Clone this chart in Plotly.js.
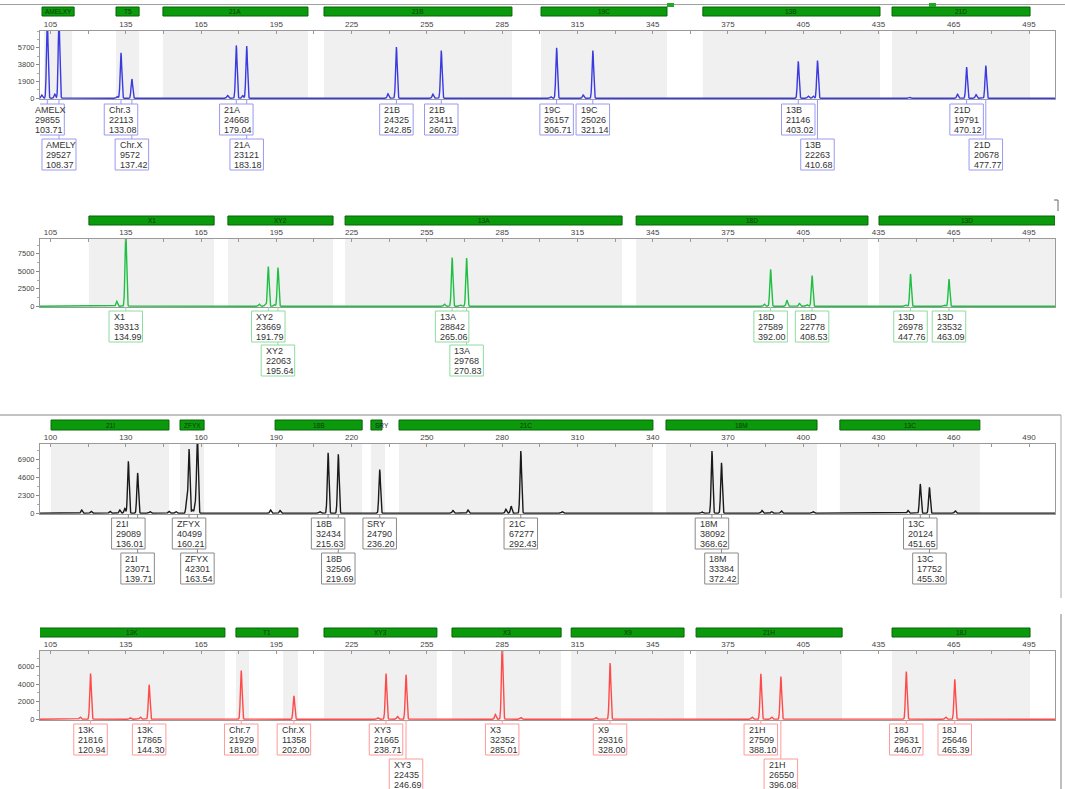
<!DOCTYPE html>
<html><head><meta charset="utf-8">
<script src="https://cdn.plot.ly/plotly-3.0.1.min.js"></script>
<style>html,body{margin:0;padding:0;background:#fff}#chart{width:1065px;height:789px}</style>
</head><body><div id="chart"></div>
<script>
// ================= DATA =================
// Panel 1 (blue dye)
const p1Names   = ["AMELX","AMELY","Chr.3","Chr.X","21A","21A","21B","21B","19C","19C","13B","13B","21D","21D"];
const p1Areas   = ["29855","29527","22113","9572","24668","23121","24325","23411","26157","25026","21146","22263","19791","20678"];
const p1Sizes   = [103.71,108.37,133.08,137.42,179.04,183.18,242.85,260.73,306.71,321.14,403.02,410.68,470.12,477.77];
const p1Heights = [9000,9000,5130,2170,5970,5890,5780,5400,5700,5400,4180,4260,3530,3690];
const p1Rows    = [1,2,1,2,1,2,1,1,1,1,1,2,1,2];
const p1MinorPos = [101.5,106.7,131.6,175.6,181.6,239.5,257.4,304.5,317.3,407.0,409.0,447.5,466.5,473.9];
const p1MinorH   = [350,450,200,300,300,500,450,150,350,250,250,100,450,400];
const p1Loci     = ["AMELXY","T5","21A","21B","19C","13B","21D"];
const p1LocStart = [101.6,131.1,149.8,214.0,300.5,365.0,440.4];
const p1LocEnd   = [114.4,140.3,207.6,288.9,350.7,435.6,495.4];
const p1BinStart = [102.4,131.1,149.8,214.0,300.5,365.0,440.4];
const p1BinEnd   = [113.6,140.3,207.6,288.9,350.7,435.6,495.4];
const p1TickText = ["105","135","165","195","225","255","285","315","345","375","405","435","465","495"];
const p1YTicks   = [0,1900,3800,5700];

// Panel 2 (green dye)
const p2Names   = ["X1","XY2","XY2","13A","13A","18D","18D","13D","13D"];
const p2Areas   = ["39313","23669","22063","28842","29768","27589","22778","26978","23532"];
const p2Sizes   = [134.99,191.79,195.64,265.06,270.83,392.00,408.53,447.76,463.09];
const p2Heights = [11000,5670,5530,6970,6880,5290,4380,4620,3890];
const p2Rows    = [1,1,2,1,2,1,1,1,1];
const p2MinorPos = [131.4,188.2,190.6,194.2,262.0,268.5,389.5,398.5,403.5,406.5,446.0,461.5];
const p2MinorH   = [700,300,250,250,300,150,300,850,400,200,150,150];
const p2Loci     = ["X1","XY2","13A","18D","13D"];
const p2LocStart = [120.3,175.7,222.4,338.4,435.2];
const p2LocEnd   = [170.2,217.6,332.8,430.8,505.3];
const p2BinStart = [120.3,175.7,222.4,338.4,435.2];
const p2BinEnd   = [170.2,217.6,332.8,430.8,505.3];
const p2TickText = ["105","135","165","195","225","255","285","315","345","375","405","435","465","495"];
const p2YTicks   = [0,2500,5000,7500];

// Panel 3 (black dye)
const p3Names   = ["21I","21I","ZFYX","ZFYX","18B","18B","SRY","21C","18M","18M","13C","13C"];
const p3Areas   = ["29089","23071","40499","42301","32434","32506","24790","67277","38092","33384","20124","17752"];
const p3Sizes   = [136.01,139.71,160.21,163.54,215.63,219.69,236.20,292.43,368.62,372.42,451.65,455.30];
const p3Heights = [6700,5200,8250,10000,7800,7600,5640,8030,8030,6500,3780,3340];
const p3Rows    = [1,2,1,2,1,2,1,1,1,2,1,2];
const p3MinorPos = [117.4,121.2,128.7,132.6,134.6,144.7,152.2,155.0,159.3,161.6,162.7,192.7,196.5,212.4,265.4,271.4,286.5,288.6,309.0,364.7,388.6,392.4,396.3,409.0,446.8,465.6];
const p3MinorH   = [400,250,250,400,600,200,250,200,1700,400,1200,400,350,200,350,400,500,900,200,150,350,200,300,200,350,300];
const p3Loci     = ["21I","ZFYX","18B","SRY","21C","18M","13C"];
const p3LocStart = [105.2,156.6,194.5,232.7,243.9,350.3,419.6];
const p3LocEnd   = [152.2,166.2,229.2,237.1,345.1,410.5,475.4];
const p3BinStart = [105.2,156.6,194.5,232.7,243.9,350.3,419.6];
const p3BinEnd   = [152.2,166.2,229.2,238.3,345.1,410.5,475.4];
const p3TickText = ["100","130","160","190","220","250","280","310","340","370","400","430","460","490"];
const p3YTicks   = [0,2300,4600,6900];

// Panel 4 (red dye)
const p4Names   = ["13K","13K","Chr.7","Chr.X","XY3","XY3","X3","X9","21H","21H","18J","18J"];
const p4Areas   = ["21816","17865","21929","11358","21665","22435","32352","29316","27509","26550","29631","25646"];
const p4Sizes   = [120.94,144.30,181.00,202.00,238.71,246.69,285.01,328.00,388.10,396.08,446.07,465.39];
const p4Heights = [5220,3950,5570,2670,5220,5100,9000,6440,5190,4880,5460,4560];
const p4Rows    = [1,1,1,1,1,2,1,1,1,2,1,1];
const p4MinorPos = [116.8,136.8,140.8,235.5,243.3,282.3,292.4,322.4,384.6,392.4,461.8];
const p4MinorH   = [250,150,250,150,300,550,200,200,250,250,250];
const p4Loci     = ["13K","T1","XY3","X3","X9","21H","18J"];
const p4LocStart = [100.4,178.9,214.0,265.0,312.5,362.3,440.4];
const p4LocEnd   = [174.5,203.6,259.0,308.5,357.5,420.5,495.4];
const p4BinStart = [100.4,178.9,197.7,214.0,265.0,312.5,362.3,440.4];
const p4BinEnd   = [174.5,184.1,203.6,259.0,308.5,357.5,420.5,495.4];
const p4TickText = ["105","135","165","195","225","255","285","315","345","375","405","435","465","495"];
const p4YTicks   = [0,2000,4000,6000];

// ================= BUILD =================
const W = 1065, H = 789;
const XR = [100.8, 505.35];
const XDOM = [40 / W, 1055 / W];
const FONT = "Liberation Sans, Arial, sans-serif";
const yp = py => 1 - py / H;

const panels = [
  {names:p1Names, areas:p1Areas, sizes:p1Sizes, heights:p1Heights, rows:p1Rows, mpos:p1MinorPos, mh:p1MinorH,
   loci:p1Loci, ls:p1LocStart, le:p1LocEnd, bs:p1BinStart, be:p1BinEnd, ticktext:p1TickText, yticks:p1YTicks,
   boxTop:31, boxBot:99, barTop:7, barBot:16, row1:104, row2:139, ymax:7600,
   color:"#3a3ae0", border:"#9a9af0"},
  {names:p2Names, areas:p2Areas, sizes:p2Sizes, heights:p2Heights, rows:p2Rows, mpos:p2MinorPos, mh:p2MinorH,
   loci:p2Loci, ls:p2LocStart, le:p2LocEnd, bs:p2BinStart, be:p2BinEnd, ticktext:p2TickText, yticks:p2YTicks,
   boxTop:239, boxBot:307, barTop:216, barBot:225, row1:311, row2:345, ymax:9620,
   color:"#1fbf44", border:"#8fdc9f"},
  {names:p3Names, areas:p3Areas, sizes:p3Sizes, heights:p3Heights, rows:p3Rows, mpos:p3MinorPos, mh:p3MinorH,
   loci:p3Loci, ls:p3LocStart, le:p3LocEnd, bs:p3BinStart, be:p3BinEnd, ticktext:p3TickText, yticks:p3YTicks,
   boxTop:444, boxBot:514, barTop:420, barBot:430, row1:518, row2:553, ymax:8940,
   color:"#1a1a1a", border:"#8a8a8a"},
  {names:p4Names, areas:p4Areas, sizes:p4Sizes, heights:p4Heights, rows:p4Rows, mpos:p4MinorPos, mh:p4MinorH,
   loci:p4Loci, ls:p4LocStart, le:p4LocEnd, bs:p4BinStart, be:p4BinEnd, ticktext:p4TickText, yticks:p4YTicks,
   boxTop:651, boxBot:720, barTop:628, barBot:637, row1:724, row2:759, ymax:7810,
   color:"#ff4a4a", border:"#ff9a9a"}
];

function textWidth(s) {
  let w = 0;
  for (const c of s) {
    if (c >= '0' && c <= '9') w += 5.0;
    else if (c === '.') w += 2.5;
    else if (c >= 'A' && c <= 'Z') w += 5.6;
    else w += 4.5;
  }
  return w;
}

const traces = [];
const shapes = [];
const annotations = [];
const layout = {
  width: W, height: H,
  margin: {l:0, r:0, t:0, b:0},
  paper_bgcolor: "#fff", plot_bgcolor: "rgba(0,0,0,0)",
  showlegend: false,
  font: {family: FONT, color: "#333"},
  shapes: shapes, annotations: annotations
};

const tickVals = [];
for (let v = 105; v <= 495; v += 15) tickVals.push(v);

panels.forEach((P, i) => {
  const n = i + 1;
  const xa = n === 1 ? "x" : "x" + n;
  const ya = n === 1 ? "y" : "y" + n;
  const xKey = n === 1 ? "xaxis" : "xaxis" + n;
  const yKey = n === 1 ? "yaxis" : "yaxis" + n;
  const dom = [yp(P.boxBot), yp(P.boxTop)];

  const tt = tickVals.map((v, k) => (k % 2 === 0 ? P.ticktext[k / 2] : ""));
  layout[xKey] = {
    domain: XDOM, range: XR, anchor: ya, side: "top",
    showgrid: false, zeroline: false, showline: true, mirror: true,
    linecolor: "#9a9a9a", linewidth: 1,
    tickmode: "array", tickvals: tickVals, ticktext: tt,
    ticks: "inside", ticklen: 3, tickcolor: "#999",
    tickfont: {size: 8, color: "#444", family: FONT}
  };
  layout[yKey] = {
    domain: dom, range: [-P.ymax * 0.012, P.ymax], anchor: xa,
    showgrid: false, zeroline: false, showline: true, mirror: true,
    linecolor: "#9a9a9a", linewidth: 1,
    tickmode: "array", tickvals: P.yticks,
    ticks: "outside", ticklen: 3, tickcolor: "#888",
    tickfont: {size: 7.5, color: "#444", family: FONT},
    minor: {ticks: "outside", ticklen: 2, dtick: P.yticks[1] / 2, tickcolor: "#aaa"}
  };

  P.bs.forEach((s, k) => {
    shapes.push({type: "rect", xref: xa, yref: "paper", x0: s, x1: P.be[k],
      y0: dom[0], y1: dom[1], fillcolor: "#f0f0f0", line: {width: 0}, layer: "below"});
  });
  P.loci.forEach((name, k) => {
    shapes.push({type: "rect", xref: xa, yref: "paper", x0: P.ls[k], x1: P.le[k],
      y0: yp(P.barBot), y1: yp(P.barTop), fillcolor: "#0b9a0b", line: {color: "#066406", width: 1}});
    const narrow = (P.le[k] - P.ls[k]) < 6;
    annotations.push({xref: xa, yref: "paper",
      x: narrow ? P.ls[k] : (P.ls[k] + P.le[k]) / 2,
      xanchor: narrow ? "left" : "center", xshift: narrow ? 2 : 0,
      y: yp((P.barTop + P.barBot) / 2), yanchor: "middle",
      text: name, showarrow: false, font: {size: 6.5, color: narrow ? "#223" : "#0a3a0a", family: FONT}});
  });

  const allPos = P.sizes.concat(P.mpos);
  const allH = P.heights.concat(P.mh);
  const sig = 0.32;
  let xs = [XR[0], XR[1]];
  allPos.forEach(p => { for (let d = -1.3; d <= 1.31; d += 0.13) xs.push(p + d); });
  xs.sort((a, b) => a - b);
  const ys = xs.map(x => {
    let s = 0;
    allPos.forEach((p, k) => { const z = (x - p) / sig; if (Math.abs(z) < 5) s += allH[k] * Math.exp(-0.5 * z * z); });
    return s;
  });
  traces.push({type: "scatter", mode: "lines", x: xs, y: ys, xaxis: xa, yaxis: ya,
    line: {color: P.color, width: 1.4}, hoverinfo: "skip"});

  const boxH = 31;
  P.sizes.forEach((p, k) => {
    const top = P.rows[k] === 1 ? P.row1 : P.row2;
    shapes.push({type: "line", xref: xa, yref: "paper", x0: p, x1: p,
      y0: yp(top), y1: yp(P.boxBot), line: {color: P.border, width: 1}});
  });
  P.sizes.forEach((p, k) => {
    const top = P.rows[k] === 1 ? P.row1 : P.row2;
    const lines = [P.names[k], P.areas[k], p.toFixed(2)];
    const w = Math.max(...lines.map(textWidth)) + 6;
    shapes.push({type: "rect", xref: xa, xsizemode: "pixel", xanchor: p, x0: -w / 2, x1: w / 2,
      yref: "paper", y0: yp(top + boxH), y1: yp(top),
      fillcolor: "#ffffff", line: {color: P.border, width: 1}});
    lines.forEach((t, j) => {
      annotations.push({xref: xa, yref: "paper", x: p, xshift: -w / 2 + 2.5, xanchor: "left",
        y: yp(top + 6 + j * 10), yanchor: "middle", text: t, showarrow: false,
        font: {size: 9, color: "#333", family: FONT}});
    });
  });
});

// frame decorations (header line, separators)
shapes.push({type: "line", xref: "paper", yref: "paper", x0: 0, x1: 1, y0: yp(4.5), y1: yp(4.5), line: {color: "#a0a0a0", width: 1}});
shapes.push({type: "rect", xref: "paper", yref: "paper", x0: 667 / W, x1: 674 / W, y0: yp(7), y1: yp(3), fillcolor: "#22aa22", line: {width: 0}});
shapes.push({type: "rect", xref: "paper", yref: "paper", x0: 929 / W, x1: 936 / W, y0: yp(7), y1: yp(3), fillcolor: "#22aa22", line: {width: 0}});
shapes.push({type: "line", xref: "paper", yref: "paper", x0: 1058 / W, x1: 1058 / W, y0: yp(211), y1: yp(200), line: {color: "#666", width: 1}});
shapes.push({type: "line", xref: "paper", yref: "paper", x0: 1054 / W, x1: 1058 / W, y0: yp(200), y1: yp(200), line: {color: "#666", width: 1}});
shapes.push({type: "line", xref: "paper", yref: "paper", x0: 0, x1: 1061 / W, y0: yp(415), y1: yp(415), line: {color: "#888", width: 1}});
shapes.push({type: "line", xref: "paper", yref: "paper", x0: 1061 / W, x1: 1061 / W, y0: yp(598), y1: yp(415), line: {color: "#aaa", width: 1}});
shapes.push({type: "line", xref: "paper", yref: "paper", x0: 1061 / W, x1: 1061 / W, y0: 0, y1: yp(614), line: {color: "#aaa", width: 1.5}});

Plotly.newPlot("chart", traces, layout, {displayModeBar: false, staticPlot: true});
</script>
</body></html>
